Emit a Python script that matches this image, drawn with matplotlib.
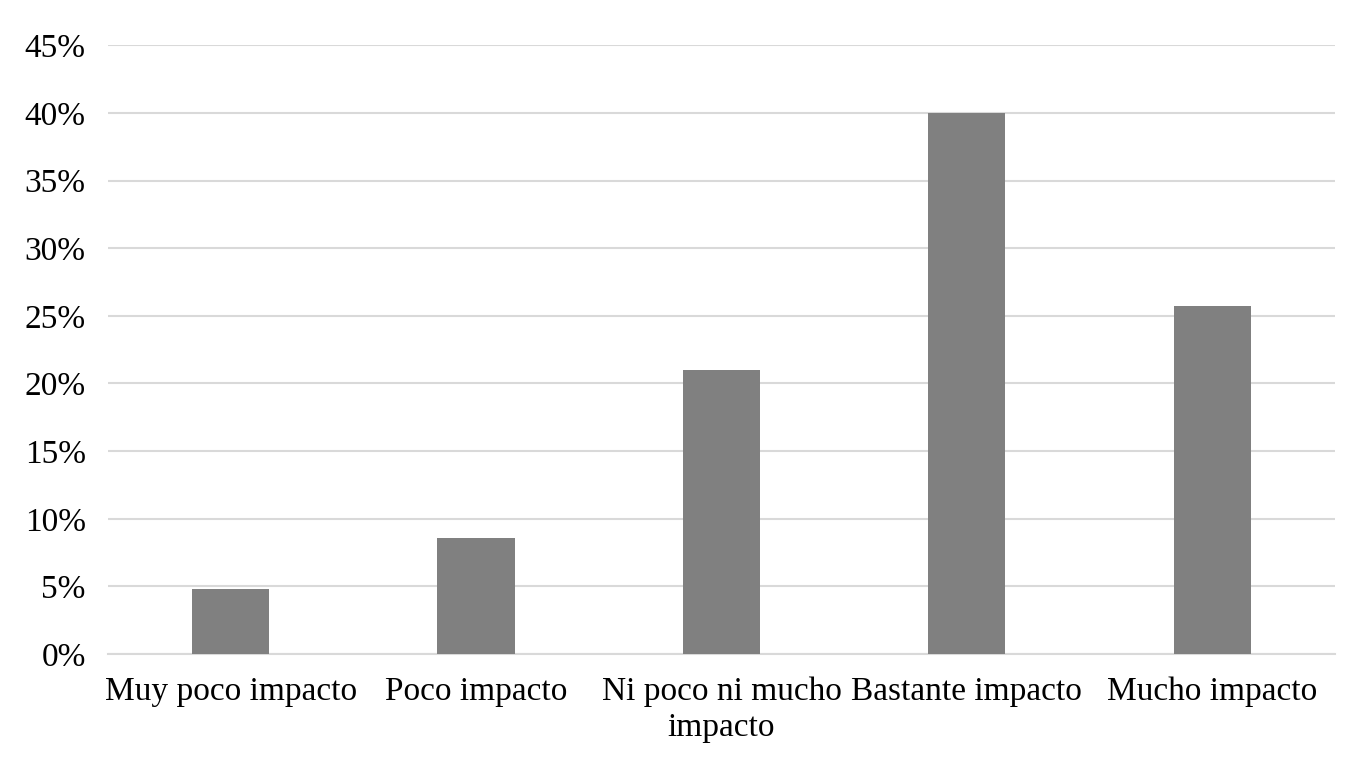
import matplotlib.pyplot as plt
from matplotlib.ticker import PercentFormatter

categorias = ["Muy poco impacto", "Poco impacto", "Ni poco ni mucho\nimpacto",
              "Bastante impacto", "Mucho impacto"]
valores = [4.8, 8.6, 21.0, 40.0, 25.7]
ticks_y = [0, 5, 10, 15, 20, 25, 30, 35, 40, 45]

plt.rcParams['font.family'] = ['Liberation Serif', 'DejaVu Serif']

fig = plt.figure(figsize=(13.58, 7.68), dpi=100)
ax = fig.add_axes([0.0795, 0.1484, 0.9035, 0.7926])

x = range(len(categorias))
ax.bar(x, valores, width=0.315, color='#808080', zorder=3)

ax.set_xlim(-0.5, len(categorias) - 0.5)
ax.set_ylim(0, 45)
ax.set_yticks(ticks_y)
ax.yaxis.set_major_formatter(PercentFormatter(decimals=0))
ax.set_xticks(list(x))
ax.set_xticklabels(categorias, fontsize=24, linespacing=1.25)
ax.tick_params(axis='y', labelsize=24, length=0, pad=16)
ax.tick_params(axis='x', length=0, pad=16)

ax.grid(axis='y', color='#d9d9d9', linewidth=1.5, zorder=0)
for s in ['top', 'right', 'left']:
    ax.spines[s].set_visible(False)
ax.spines['bottom'].set_color('#d9d9d9')
ax.spines['bottom'].set_linewidth(1.5)

plt.savefig('out.png', dpi=100)
